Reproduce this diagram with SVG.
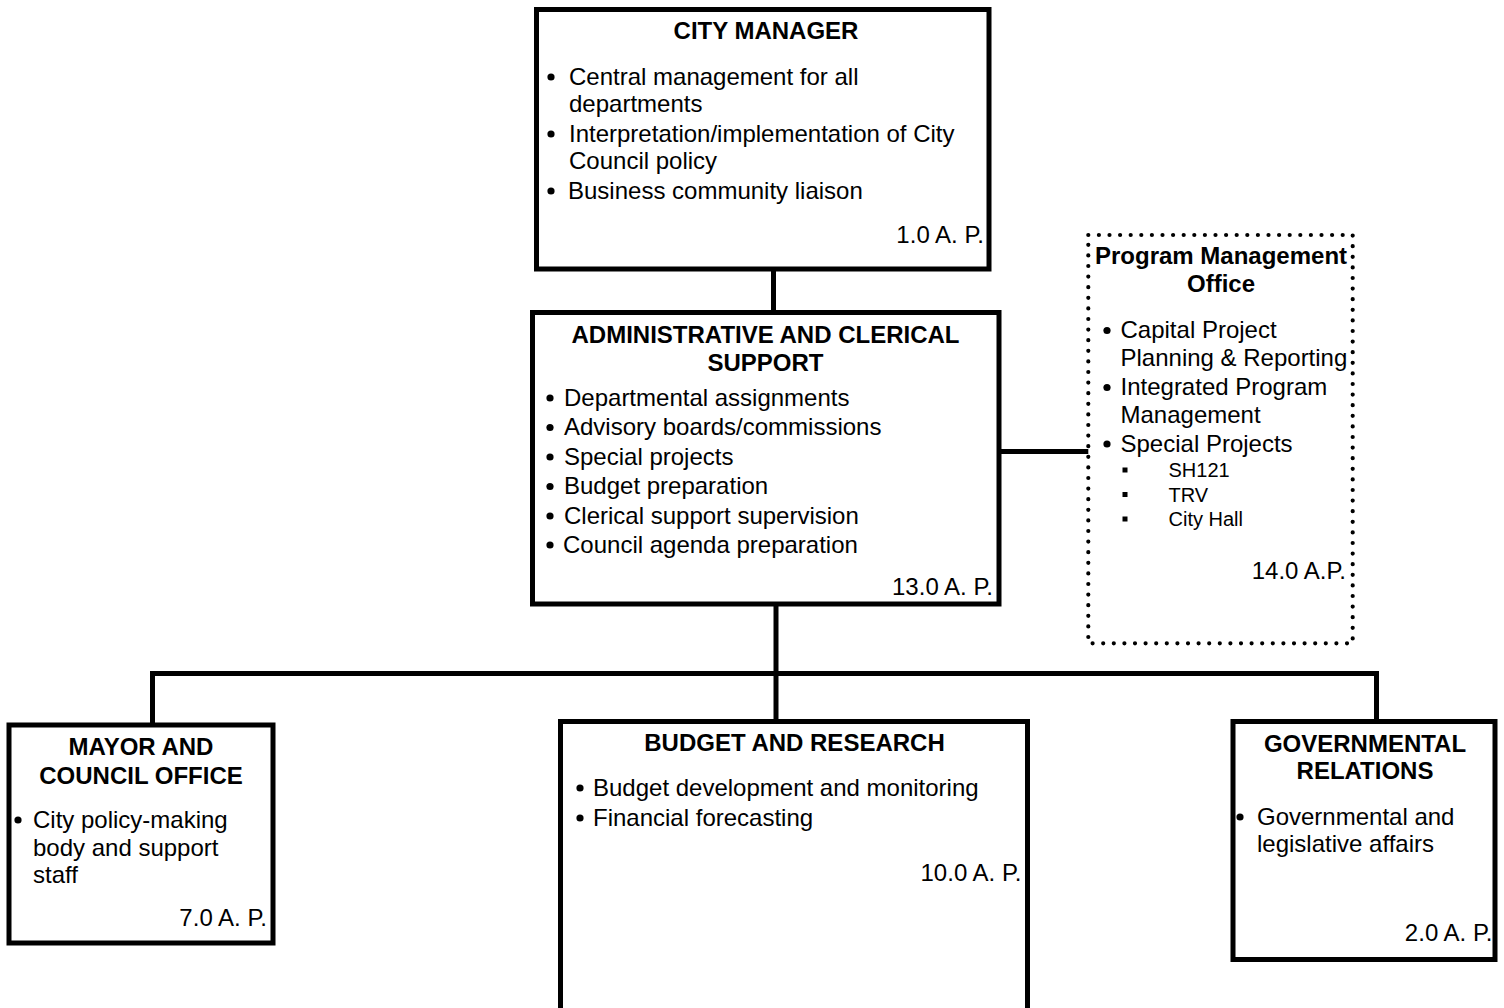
<svg xmlns="http://www.w3.org/2000/svg" width="1504" height="1008" viewBox="0 0 1504 1008">
<style>
.box{fill:#fff;stroke:#000;stroke-width:5}
.dot{fill:#fff;stroke:#000;stroke-width:4.2;stroke-linecap:round;stroke-dasharray:0 10.6}
.t{font-family:"Liberation Sans",Arial,sans-serif;font-size:24px;fill:#000}
.h{font-family:"Liberation Sans",Arial,sans-serif;font-size:24px;font-weight:bold;fill:#000;text-anchor:middle}
.s{font-family:"Liberation Sans",Arial,sans-serif;font-size:20px;fill:#000}
.r{text-anchor:end}
.conn{fill:none;stroke:#000;stroke-width:5;stroke-linejoin:miter;stroke-linecap:butt}
circle{fill:#000}
</style>
<rect width="1504" height="1008" fill="#fff"/>
<g id="connectors">
<path class="conn" d="M773.5 269V312.5"/>
<path class="conn" d="M993 451.5H1089"/>
<path class="conn" d="M776 604V722"/>
<path class="conn" d="M152.5 725V673.5H1376.5V721.5"/>
</g>
<g id="city-manager">
<rect class="box" x="536.5" y="9.5" width="452.5" height="259.5"/>
<text class="h" x="766" y="38.5">CITY MANAGER</text>
<circle cx="551" cy="77" r="3.6"/>
<circle cx="551" cy="134" r="3.6"/>
<circle cx="551" cy="191" r="3.6"/>
<text class="t" x="569" y="84.5">Central management for all</text>
<text class="t" x="569" y="111.5">departments</text>
<text class="t" x="569" y="141.5">Interpretation/implementation of City</text>
<text class="t" x="569" y="168.5">Council policy</text>
<text class="t" x="568" y="198.5">Business community liaison</text>
<text class="t r" x="984" y="243">1.0 A. P.</text>
</g>
<g id="admin-support">
<rect class="box" x="532.5" y="312.5" width="466.5" height="291.5"/>
<text class="h" x="765.5" y="342.5">ADMINISTRATIVE AND CLERICAL</text>
<text class="h" x="765.5" y="370.5">SUPPORT</text>
<circle cx="550" cy="398" r="3.6"/>
<circle cx="550" cy="427.5" r="3.6"/>
<circle cx="550" cy="457" r="3.6"/>
<circle cx="550" cy="486.5" r="3.6"/>
<circle cx="550" cy="516" r="3.6"/>
<circle cx="550" cy="545" r="3.6"/>
<text class="t" x="564" y="406">Departmental assignments</text>
<text class="t" x="564" y="435">Advisory boards/commissions</text>
<text class="t" x="564" y="464.5">Special projects</text>
<text class="t" x="564" y="494">Budget preparation</text>
<text class="t" x="564" y="523.5">Clerical support supervision</text>
<text class="t" x="563" y="552.5">Council agenda preparation</text>
<text class="t r" x="993" y="595">13.0 A. P.</text>
</g>
<g id="program-management-office">
<rect class="dot" x="1088.3" y="235" width="264.4" height="408.3"/>
<text class="h" x="1221" y="264">Program Management</text>
<text class="h" x="1221" y="292">Office</text>
<circle cx="1107" cy="330.5" r="3.6"/>
<circle cx="1107" cy="387.5" r="3.6"/>
<circle cx="1107" cy="444" r="3.6"/>
<text class="t" x="1120.5" y="338">Capital Project</text>
<text class="t" x="1120.5" y="366">Planning &amp; Reporting</text>
<text class="t" x="1120.5" y="395">Integrated Program</text>
<text class="t" x="1120.5" y="423">Management</text>
<text class="t" x="1120.5" y="451.5">Special Projects</text>
<rect x="1122.5" y="467.5" width="5" height="5"/>
<rect x="1122.5" y="492" width="5" height="5"/>
<rect x="1122.5" y="516.5" width="5" height="5"/>
<text class="s" x="1168.5" y="477">SH121</text>
<text class="s" x="1168.5" y="501.5">TRV</text>
<text class="s" x="1168.5" y="526">City Hall</text>
<text class="t r" x="1346" y="579">14.0 A.P.</text>
</g>
<g id="mayor-council">
<rect class="box" x="9" y="725" width="264" height="218"/>
<text class="h" x="141" y="755">MAYOR AND</text>
<text class="h" x="141" y="783.5">COUNCIL OFFICE</text>
<circle cx="18" cy="820" r="3.6"/>
<text class="t" x="33" y="828">City policy-making</text>
<text class="t" x="33" y="856">body and support</text>
<text class="t" x="33" y="883">staff</text>
<text class="t r" x="267" y="926">7.0 A. P.</text>
</g>
<g id="budget-research">
<rect class="box" x="560.5" y="721.5" width="467" height="300"/>
<text class="h" x="794.5" y="750.5">BUDGET AND RESEARCH</text>
<circle cx="580" cy="788" r="3.6"/>
<circle cx="580" cy="818" r="3.6"/>
<text class="t" x="593" y="796">Budget development and monitoring</text>
<text class="t" x="593" y="825.5">Financial forecasting</text>
<text class="t r" x="1021.5" y="880.5">10.0 A. P.</text>
</g>
<g id="governmental-relations">
<rect class="box" x="1233" y="721.5" width="262" height="238"/>
<text class="h" x="1365" y="752">GOVERNMENTAL</text>
<text class="h" x="1365" y="779">RELATIONS</text>
<circle cx="1240" cy="817" r="3.6"/>
<text class="t" x="1257" y="824.5">Governmental and</text>
<text class="t" x="1257" y="851.5">legislative affairs</text>
<text class="t r" x="1492.5" y="940.5">2.0 A. P.</text>
</g>
</svg>
